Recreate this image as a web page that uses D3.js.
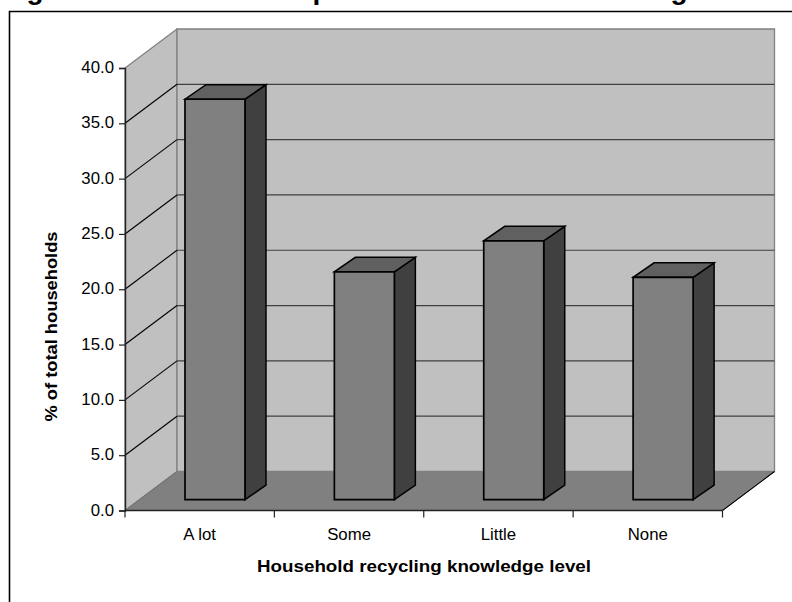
<!DOCTYPE html>
<html><head><meta charset="utf-8">
<script src="https://cdn.jsdelivr.net/npm/d3@7"></script>
<style>
html,body{margin:0;padding:0;background:#fff;overflow:hidden}
svg{display:block}
text{font-family:"Liberation Sans",Arial,sans-serif;fill:#000}
</style></head><body>
<script>
const categories = ["A lot","Some","Little","None"];
const values = [36.2,20.6,23.4,20.1];
const yTicks = [0,5,10,15,20,25,30,35,40];
const titleFragments = [["g",35],["p",321],["g",679]];
const xTitle = "Household recycling knowledge level";
const yTitle = "% of total households";

const W=792,H=602;
const svg=d3.select("body").append("svg").attr("width",W).attr("height",H);
const x=d3.scaleBand().domain(categories).range([125,722.5]);
const y=d3.scaleLinear().domain([0,40]).range([510.5,68]);
const dx=52,dy=-39;           // chart depth
const bdx=21,bdy=-14.5;       // bar depth
const ox=15.3,oy=-10.8;       // bar offset from front plane
const bw=60;
const poly=(pts,fill,stroke,sw)=>svg.append("polygon")
  .attr("points",pts.map(p=>p.join(",")).join(" "))
  .attr("fill",fill).attr("stroke",stroke||"none").attr("stroke-width",sw||0);

// title fragments cut by the page top
svg.append("g").selectAll("text").data(titleFragments).join("text")
  .attr("x",d=>d[1]).attr("y",-1).attr("text-anchor","middle")
  .attr("font-size",28).attr("font-weight","bold").text(d=>d[0]);

// frame
svg.append("path").attr("d",`M9.5,${H}V11.5H${W}`).attr("fill","none").attr("stroke","#000").attr("stroke-width",1.6);

const [xl,xr]=x.range(), y0=y(0), yT=y(40);
// walls and floor
poly([[xl,y0],[xl+dx,y0+dy],[xl+dx,yT+dy],[xl,yT]],"#c0c0c0","#808080",1.3);
poly([[xl+dx,y0+dy],[xr+dx,y0+dy],[xr+dx,yT+dy],[xl+dx,yT+dy]],"#c0c0c0","#808080",1.3);
poly([[xl,y0],[xr,y0],[xr+dx,y0+dy],[xl+dx,y0+dy]],"#808080","#808080",1);

// gridlines
const grid=svg.append("g");
yTicks.filter(t=>t>0&&t<40).forEach(t=>{
  grid.append("line").attr("x1",xl+dx).attr("x2",xr+dx).attr("y1",y(t)+dy).attr("y2",y(t)+dy).attr("stroke","#404040").attr("stroke-width",1.2);
  grid.append("line").attr("x1",xl).attr("x2",xl+dx).attr("y1",y(t)).attr("y2",y(t)+dy).attr("stroke","#000").attr("stroke-width",1.1);
});
// outer edges of floor on the right and front-left diagonal
svg.append("line").attr("x1",xr).attr("y1",y0).attr("x2",xr+dx).attr("y2",y0+dy).attr("stroke","#000").attr("stroke-width",1.1);
svg.append("line").attr("x1",xl).attr("y1",y0).attr("x2",xl+dx).attr("y2",y0+dy).attr("stroke","#707070").attr("stroke-width",1);

// bars
categories.forEach((c,i)=>{
  const cx=x(c)+x.bandwidth()/2+ox;
  const l=cx-bw/2, r=cx+bw/2, b=y(0)+oy, t=y(values[i])+oy;
  poly([[r,b],[r+bdx,b+bdy],[r+bdx,t+bdy],[r,t]],"#404040","#000",1.5);
  poly([[l,t],[r,t],[r+bdx,t+bdy],[l+bdx,t+bdy]],"#606060","#000",1.5);
  poly([[l,b],[r,b],[r,t],[l,t]],"#808080","#000",1.7);
});

// axes
const yAxis=d3.axisLeft(y).tickValues(yTicks).tickSize(6).tickPadding(5).tickFormat(d3.format(".1f"));
const gy=svg.append("g").attr("transform",`translate(${xl},0)`).call(yAxis);
gy.select(".domain").attr("stroke","#222").attr("stroke-width",1.4);
gy.selectAll("line").attr("stroke","#222").attr("stroke-width",1.2);
gy.selectAll("text").attr("font-size",16.8).attr("font-family",'"Liberation Sans"').attr("fill","#000").attr("dy","0.27em");

const gx=svg.append("g").attr("transform",`translate(0,${y0})`);
gx.append("line").attr("x1",xl).attr("x2",xr).attr("stroke","#222").attr("stroke-width",1.6);
d3.range(categories.length+1).forEach(i=>{
  const px=xl+i*x.step();
  gx.append("line").attr("x1",px).attr("x2",px).attr("y1",0).attr("y2",7).attr("stroke","#222").attr("stroke-width",1.2);
});
gx.selectAll("text").data(categories).join("text")
  .attr("x",d=>x(d)+x.bandwidth()/2).attr("y",29)
  .attr("text-anchor","middle").attr("font-size",16.8).text(d=>d);

svg.append("text").attr("x",424).attr("y",572).attr("text-anchor","middle")
  .attr("font-size",16).attr("font-weight","bold").attr("textLength",334).attr("lengthAdjust","spacingAndGlyphs").text(xTitle);
svg.append("text").attr("transform","translate(57,326.5) rotate(-90)").attr("text-anchor","middle")
  .attr("font-size",16).attr("font-weight","bold").attr("textLength",190).attr("lengthAdjust","spacingAndGlyphs").text(yTitle);
</script>
</body></html>
